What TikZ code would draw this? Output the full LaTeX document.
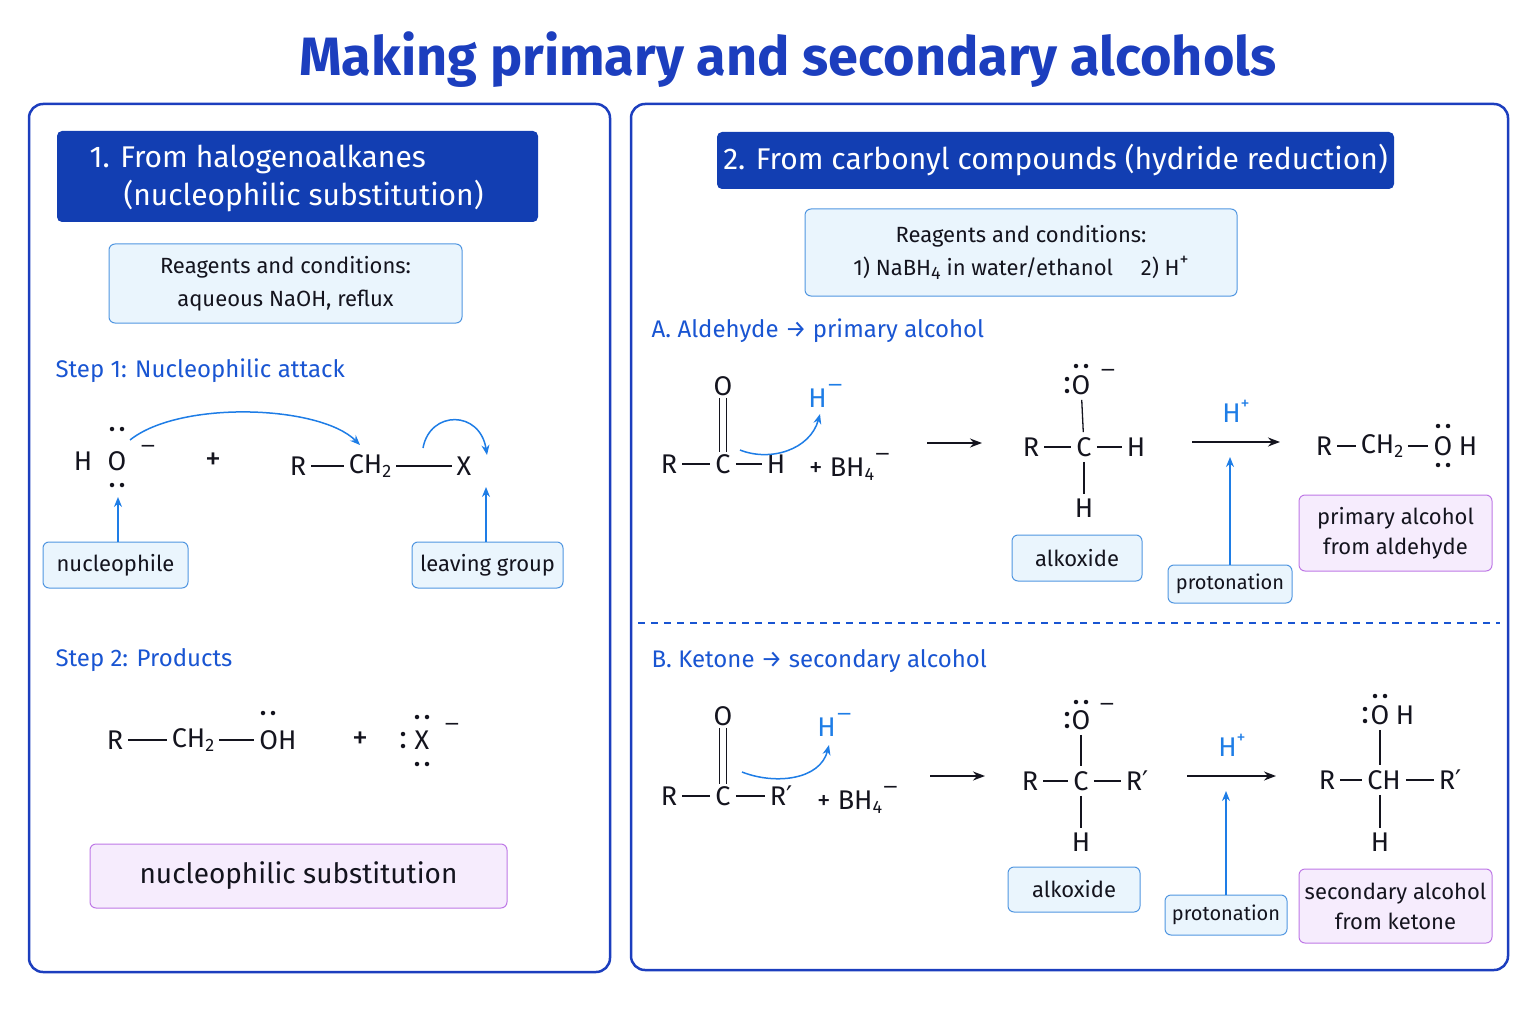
\documentclass[tikz,border=0pt]{standalone}
\usepackage{fontspec}
\setmainfont{Fira Sans}
\newfontfamily\djf{DejaVu Sans}
\usetikzlibrary{arrows.meta}
\definecolor{tblue}{RGB}{28,62,190}
\definecolor{hfill}{RGB}{18,62,178}
\definecolor{sblue}{RGB}{25,85,210}
\definecolor{ablue}{RGB}{30,125,230}
\definecolor{lfill}{RGB}{234,245,253}
\definecolor{lbord}{RGB}{80,150,225}
\definecolor{pfill}{RGB}{246,236,253}
\definecolor{pbord}{RGB}{190,120,230}
\definecolor{ink}{RGB}{20,20,30}
\newcommand{\sbs}[1]{\raisebox{-0.3ex}{\fontsize{18}{20}\selectfont #1}}
\newcommand{\sps}[1]{\raisebox{0.9ex}{\fontsize{18}{20}\selectfont #1}}
\newcommand{\mns}{{\djf\fontsize{20}{22}\selectfont −}}
\newcommand{\prm}{{\djf ′}}
\begin{document}
\begin{tikzpicture}[x=1pt,y=-1pt,
 panel/.style={draw=tblue,line width=2.5pt,rounded corners=14pt},
 hdr/.style={fill=hfill,rounded corners=5pt,text=white,font=\fontsize{30}{36}\selectfont},
 lbox/.style={draw=lbord,fill=lfill,line width=1pt,rounded corners=6pt,text=ink,font=\fontsize{22}{33}\selectfont,align=center,inner sep=0pt},
 pbox/.style={draw=pbord,fill=pfill,line width=1pt,rounded corners=6pt,text=ink,font=\fontsize{22}{30}\selectfont,align=center,inner sep=0pt},
 steplab/.style={anchor=west,text=sblue,font=\fontsize{24}{28}\selectfont},
 atm/.style={text=ink,font=\fontsize{27}{30}\selectfont,inner sep=2pt},
 bd/.style={ink,line width=1.3pt,shorten <=3pt,shorten >=3pt},
 arr/.style={ink,line width=1.6pt,-{Stealth[length=12pt,width=9pt]}},
 barr/.style={ablue,line width=1.5pt,-{Stealth[length=10pt,width=8pt]}},
 edot/.style={fill=ink,circle,inner sep=0pt,minimum size=4.5pt},
 blab/.style={text=ablue,font=\fontsize{27}{30}\selectfont,inner sep=1pt}]
\useasboundingbox (0,0) rectangle (1536,1024);
\node[text=tblue,font=\bfseries\fontsize{54}{60}\selectfont] (title) at (788,60) {Making primary and secondary alcohols};
\draw[panel] (29,104) rectangle (610,972);
\draw[panel] (631,104) rectangle (1508,970);
% left
\node[hdr,minimum width=481pt,minimum height=91pt] (h1) at (297.5,176.5) {};
\node[anchor=west,text=white,font=\fontsize{30}{36}\selectfont] (h1a) at (86,159) {1. From halogenoalkanes};
\node[anchor=west,text=white,font=\fontsize{30}{36}\selectfont] (h1b) at (120,196) {(nucleophilic substitution)};
\node[lbox,minimum width=353pt,minimum height=79pt] (r1) at (285.5,283.5) {Reagents and conditions:\\aqueous NaOH, reflux};
\node[steplab] (s1) at (52,371) {Step 1: Nucleophilic attack};
\node[atm] (H1) at (83,461) {H};
\node[atm] (O1) at (117,461) {O};
\node[edot] (d1) at (112,429) {}; \node[edot] (d2) at (122,429) {};
\node[edot] (d3) at (112,485) {}; \node[edot] (d4) at (122,485) {};
\node[atm] (m1) at (148,449) {\mns};
\node[atm,font=\fontsize{32}{34}\selectfont] (p1) at (213,461) {+};
\node[atm] (R1) at (298,466) {R};
\node[atm] (C1) at (370,466) {CH\sbs{2}};
\node[atm] (X1) at (464,466) {X};
\draw[bd] (R1) -- (C1);
\draw[bd] (C1) -- (X1);
\draw[barr] (130,440) .. controls (180,400) and (320,405) .. (360,445);
\draw[barr] (423,448) .. controls (430,410) and (480,410) .. (487,455);
\node[lbox,minimum width=145pt,minimum height=46pt] (nu) at (115.5,565) {nucleophile};
\node[lbox,minimum width=151pt,minimum height=46pt] (lg) at (487.5,565) {leaving group};
\draw[barr] (nu.north -| 118,0) -- (118,497);
\draw[barr] (lg.north -| 486,0) -- (486,487);
\node[steplab] (s2) at (52,660) {Step 2: Products};
\node[atm] (R2) at (115,740) {R};
\node[atm] (C2) at (193,740) {CH\sbs{2}};
\node[atm] (O2) at (278,740) {OH};
\draw[bd] (R2) -- (C2); \draw[bd] (C2) -- (O2);
\node[edot] (d5) at (263,713) {}; \node[edot] (d6) at (273,713) {};
\node[atm,font=\fontsize{32}{34}\selectfont] (p2) at (360,740) {+};
\node[atm] (X2) at (422,740) {X};
\node[edot] at (417,717) {}; \node[edot] at (427,717) {};
\node[edot] at (417,764) {}; \node[edot] at (427,764) {};
\node[edot] at (403,734) {}; \node[edot] at (403,746) {};
\node[atm] (m2) at (452,727) {\mns};
\node[pbox,minimum width=417pt,minimum height=64pt,font=\fontsize{28}{32}\selectfont] (ns) at (298.5,876) {nucleophilic substitution};
% right
\node[hdr,minimum width=677pt,minimum height=57pt] (h2) at (1055.5,160.5) {2. From carbonyl compounds (hydride reduction)};
\node[lbox,minimum width=432pt,minimum height=87pt] (r2) at (1021,252.5) {Reagents and conditions:\\1) NaBH\sbs{4} in water/ethanol\quad\ 2) H\sps{+}};
\node[steplab] (sa) at (648,331) {A. Aldehyde → primary alcohol};
% aldehyde
\node[atm] (Oa) at (723,386) {O};
\node[atm] (Ra) at (669,464) {R};
\node[atm] (Ca) at (723,464) {C};
\node[atm] (Ha) at (776,464) {H};
\draw[bd] (Ra) -- (Ca); \draw[bd] (Ca) -- (Ha);
\draw[ink,line width=1.3pt] ([xshift=-3.5pt]Oa.south) -- ([xshift=-3.5pt]Ca.north);
\draw[ink,line width=1.3pt] ([xshift=3.5pt]Oa.south) -- ([xshift=3.5pt]Ca.north);
\node[atm] (Ba) at (850,467) {+ BH\sbs{4}\raisebox{1.1ex}{\mns}};
\node[blab] (Hma) at (826,396) {H\raisebox{1.1ex}{\mns}};
\draw[barr] (740,450) .. controls (770,462) and (810,450) .. (820,414);
\draw[arr] (927,443) -- (982,443);
% alkoxide A
\node[atm] (Ob) at (1081,385) {O};
\node[edot] at (1076,366) {}; \node[edot] at (1086,366) {};
\node[edot] at (1067,379) {}; \node[edot] at (1067,391) {};
\node[atm] (mb) at (1108,373) {\mns};
\node[atm] (Rb) at (1031,447) {R};
\node[atm] (Cb) at (1084,447) {C};
\node[atm] (Hb) at (1136,447) {H};
\node[atm] (Hb2) at (1084,508) {H};
\draw[bd] (Rb) -- (Cb); \draw[bd] (Cb) -- (Hb); \draw[bd] (Ob) -- (Cb); \draw[bd] (Cb) -- (Hb2);
\node[lbox,minimum width=130pt,minimum height=46pt] (ak1) at (1077,558) {alkoxide};
\node[coordinate] (a1s) at (1192,442) {}; \node[coordinate] (a1e) at (1280,442) {};
\draw[arr] (a1s) -- (a1e);
\node[blab] (Hp1) at (1236,411) {H\sps{+}};
\node[lbox,minimum width=124pt,minimum height=38pt,font=\fontsize{20}{24}\selectfont] (pr1) at (1230,584) {protonation};
\draw[barr] (pr1.north) -- (1230,457);
\node[atm] (Rc) at (1324,446) {R};
\node[atm] (Cc) at (1382,446) {CH\sbs{2}};
\node[atm] (Oc) at (1443,446) {O};
\node[atm] (Hc) at (1468,446) {H};
\draw[bd] (Rc) -- (Cc); \draw[bd] (Cc) -- (Oc);
\node[edot] at (1438,426) {}; \node[edot] at (1448,426) {};
\node[edot] at (1438,465) {}; \node[edot] at (1448,465) {};
\node[pbox,minimum width=193pt,minimum height=76pt] (pa) at (1395.5,533) {primary alcohol\\from aldehyde};
\draw[sblue,line width=1.5pt,dash pattern=on 7pt off 6pt] (638,623) -- (1500,623);
\node[steplab] (sb) at (648,661) {B. Ketone → secondary alcohol};
% ketone
\node[atm] (Ok) at (723,716) {O};
\node[atm] (Rk) at (669,796) {R};
\node[atm] (Ck) at (723,796) {C};
\node[atm] (Rk2) at (781,796) {R\prm};
\draw[bd] (Rk) -- (Ck); \draw[bd] (Ck) -- (Rk2);
\draw[ink,line width=1.3pt] ([xshift=-3.5pt]Ok.south) -- ([xshift=-3.5pt]Ck.north);
\draw[ink,line width=1.3pt] ([xshift=3.5pt]Ok.south) -- ([xshift=3.5pt]Ck.north);
\node[atm] (Bk) at (858,800) {+ BH\sbs{4}\raisebox{1.1ex}{\mns}};
\node[blab] (Hmk) at (835,725) {H\raisebox{1.1ex}{\mns}};
\draw[barr] (742,772) .. controls (775,785) and (820,780) .. (829,745);
\draw[arr] (930,776) -- (985,776);
\node[atm] (Ol) at (1081,720) {O};
\node[edot] at (1076,702) {}; \node[edot] at (1086,702) {};
\node[edot] at (1067,714) {}; \node[edot] at (1067,726) {};
\node[atm] (ml) at (1107,707) {\mns};
\node[atm] (Rl) at (1030,781) {R};
\node[atm] (Cl) at (1081,781) {C};
\node[atm] (Rl2) at (1137,781) {R\prm};
\node[atm] (Hl) at (1081,842) {H};
\draw[bd] (Rl) -- (Cl); \draw[bd] (Cl) -- (Rl2); \draw[bd] (Ol) -- (Cl); \draw[bd] (Cl) -- (Hl);
\node[lbox,minimum width=132pt,minimum height=45pt] (ak2) at (1074,889.5) {alkoxide};
\draw[arr] (1187,776) -- (1276,776);
\node[blab] (Hp2) at (1232,745) {H\sps{+}};
\node[lbox,minimum width=122pt,minimum height=40pt,font=\fontsize{20}{24}\selectfont] (pr2) at (1226,915) {protonation};
\draw[barr] (pr2.north) -- (1226,791);
\node[atm] (Om) at (1380,715) {O};
\node[atm] (Hm) at (1405,715) {H};
\node[edot] at (1375,696) {}; \node[edot] at (1385,696) {};
\node[edot] at (1365,709) {}; \node[edot] at (1365,721) {};
\node[atm] (Rm) at (1327,780) {R};
\node[atm] (Cm) at (1384,780) {CH};
\node[atm] (Rm2) at (1450,780) {R\prm};
\node[atm] (Hm2) at (1380,842) {H};
\draw[bd] (Rm) -- (Cm); \draw[bd] (Cm) -- (Rm2);
\draw[bd] (Om) -- (Om |- Cm.north); \draw[bd] (Om |- Cm.south) -- (Hm2);
\node[pbox,minimum width=193pt,minimum height=74pt] (pb) at (1395.5,906) {secondary alcohol\\from ketone};
\end{tikzpicture}
\end{document}
